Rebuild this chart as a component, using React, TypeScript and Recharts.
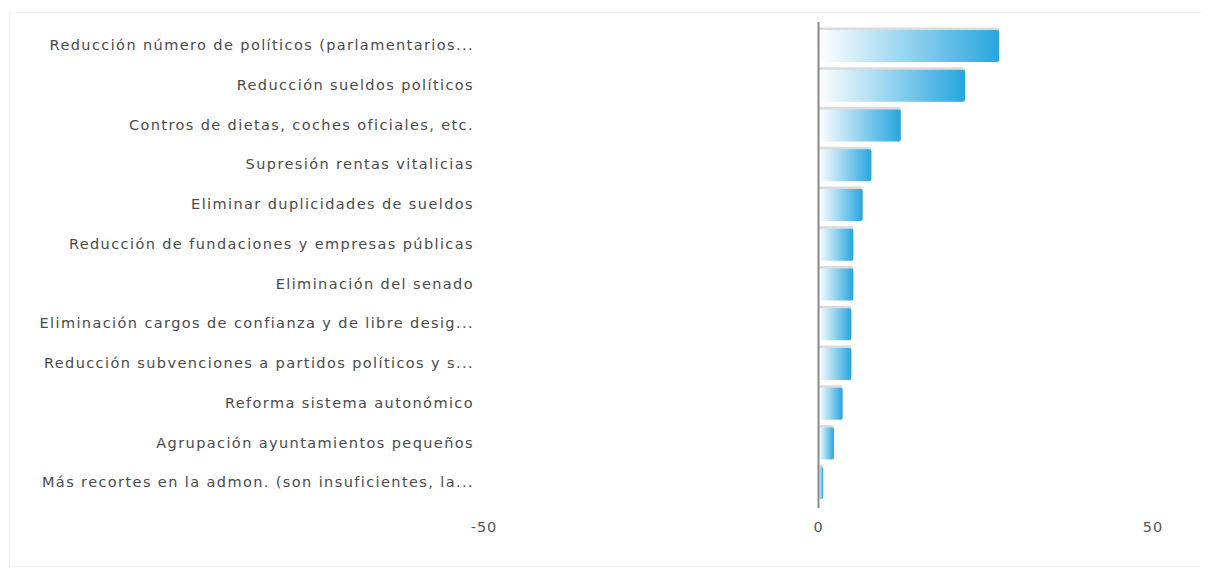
import React from 'react';
import { BarChart, Bar, XAxis, YAxis, ReferenceLine } from 'recharts';

const categories = [
  'Reducción número de políticos (parlamentarios...',
  'Reducción sueldos políticos',
  'Contros de dietas, coches oficiales, etc.',
  'Supresión rentas vitalicias',
  'Eliminar duplicidades de sueldos',
  'Reducción de fundaciones y empresas públicas',
  'Eliminación del senado',
  'Eliminación cargos de confianza y de libre desig...',
  'Reducción subvenciones a partidos políticos y s...',
  'Reforma sistema autonómico',
  'Agrupación ayuntamientos pequeños',
  'Más recortes en la admon. (son insuficientes, la...',
];

const values = [27.0, 21.9, 12.3, 7.9, 6.6, 5.2, 5.2, 4.9, 4.9, 3.6, 2.3, 0.7];

const xTicks = [-50, 0, 50];

const data = categories.map((name, i) => ({ name, value: values[i] }));

const labelFont = { fontFamily: '"DejaVu Sans", Verdana, sans-serif', fontSize: 14.5, letterSpacing: 1.4 };

// bar with a soft grey shadow strip on top and a white -> blue gradient
const ShadedBar = (props: any) => {
  const { x, y, width, height } = props;
  if (!width || width <= 0) return null;
  const r = Math.min(2, width / 2);
  return (
    <g>
      <rect x={x} y={y - 2.5} width={width} height={height} rx={r} fill="#cfcfcf" opacity={0.75} />
      <rect x={x} y={y} width={width} height={height} rx={r} fill="url(#barGrad)" />
    </g>
  );
};

// zero line, drawn a little past the plot edges like the original
const ZeroLine = (props: any) => {
  const { x1, y1, x2, y2 } = props;
  const top = Math.min(y1, y2) - 4;
  const bottom = Math.max(y1, y2) + 5;
  return <line x1={x1} x2={x2} y1={top} y2={bottom} stroke="#8a8a8a" strokeWidth={2} />;
};

export default function App() {
  return (
    <div
      style={{
        width: 1191,
        height: 553,
        marginLeft: 1,
        marginTop: 4,
        border: '1px solid #f1f1f1',
        background: '#fff',
      }}
    >
      <BarChart
        width={1189}
        height={551}
        data={data}
        layout="vertical"
        margin={{ top: 13, right: 46, bottom: 0, left: 0 }}
        barCategoryGap="10%"
      >
        <defs>
          <linearGradient id="barGrad" x1="0" y1="0" x2="1" y2="0">
            <stop offset="0%" stopColor="#ffffff" />
            <stop offset="100%" stopColor="#27a6df" />
          </linearGradient>
        </defs>
        <XAxis
          type="number"
          domain={[-50, 50]}
          ticks={xTicks}
          axisLine={false}
          tickLine={false}
          tickSize={6}
          tickMargin={13}
          height={61}
          tick={{ fill: '#555', ...labelFont, letterSpacing: 1 }}
        />
        <YAxis
          type="category"
          dataKey="name"
          width={474}
          axisLine={false}
          tickLine={false}
          tickSize={0}
          tickMargin={10}
          interval={0}
          tick={{ fill: '#4a4a4a', dy: -1, ...labelFont }}
        />
        <Bar dataKey="value" shape={ShadedBar} isAnimationActive={false} />
        <ReferenceLine x={0} shape={ZeroLine} />
      </BarChart>
    </div>
  );
}
